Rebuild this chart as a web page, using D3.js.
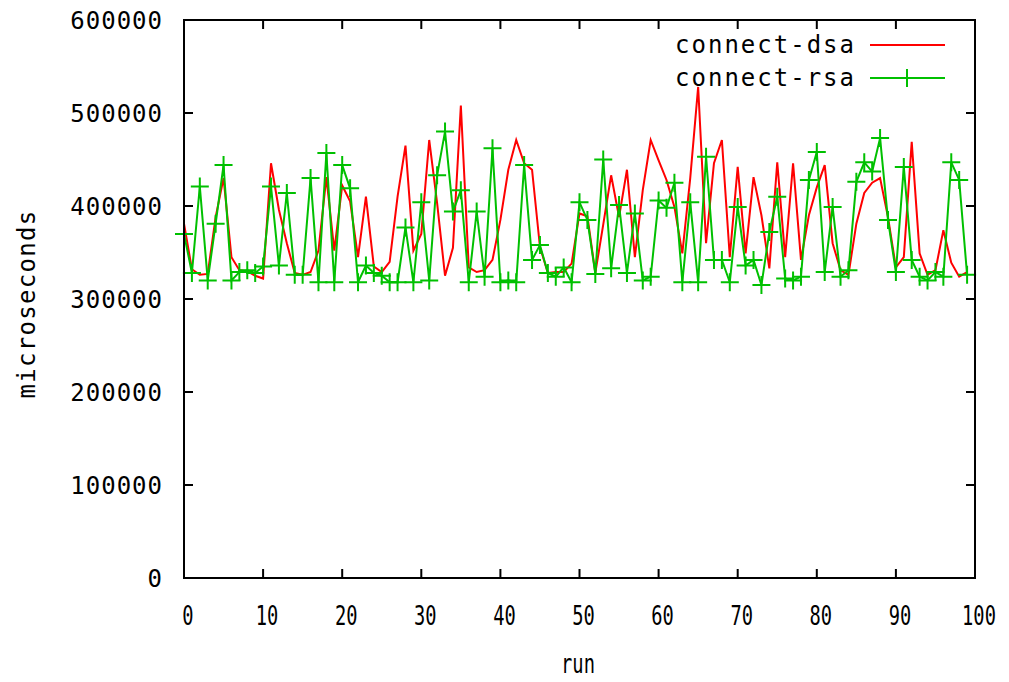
<!DOCTYPE html>
<html>
<head>
<meta charset="utf-8">
<script src="https://cdn.jsdelivr.net/npm/d3@7"></script>
<style>
  body { margin: 0; background: #fff; }
  text { font-family: "DejaVu Sans Mono", monospace; fill: #000; }
</style>
</head>
<body>
<svg id="chart"></svg>
<script>
// run numbers 0..99, values in microseconds
var dsa = [381000,332000,326000,327000,388000,430000,345000,331000,330000,325000,
           322000,446000,396000,360000,328000,326000,329000,352000,431000,352000,
           422000,405000,345000,410000,335000,329000,340000,410000,465000,352000,
           370000,471000,403000,325000,355000,508000,334000,329000,331000,342000,
           385000,439000,471000,446000,439000,356000,328000,329000,329000,338000,
           392000,389000,328000,380000,433000,388000,439000,345000,417000,471000,
           449000,428000,399000,349000,430000,528000,360000,446000,471000,345000,
           442000,349000,431000,390000,333000,447000,345000,446000,342000,390000,
           420000,444000,360000,331000,326000,381000,414000,425000,430000,388000,
           334000,345000,469000,349000,326000,331000,374000,339000,324000,329000];
var rsa = [370000,328000,421000,320000,381000,444000,320000,329000,331000,328000,
           335000,421000,336000,414000,326000,326000,430000,318000,457000,318000,
           444000,419000,318000,336000,328000,325000,318000,318000,377000,318000,
           404000,320000,433000,480000,394000,417000,318000,394000,324000,462000,
           318000,320000,318000,444000,342000,358000,328000,324000,334000,318000,
           404000,385000,327000,450000,333000,401000,328000,392000,320000,324000,
           406000,398000,425000,318000,404000,318000,453000,342000,342000,318000,
           399000,336000,342000,315000,372000,410000,322000,320000,324000,428000,
           458000,329000,399000,324000,331000,426000,447000,437000,473000,385000,
           329000,442000,342000,324000,320000,329000,324000,447000,428000,326000];
var seriesNames = ["connect-dsa", "connect-rsa"];
var xTicks = [0,10,20,30,40,50,60,70,80,90,100];
var yTicks = [0,100000,200000,300000,400000,500000,600000];

var W = 1009, H = 682;
var margin = {top: 20, right: 34, bottom: 104, left: 184};
var width = W - margin.left - margin.right,
    height = H - margin.top - margin.bottom;

var svg = d3.select("#chart").attr("width", W).attr("height", H);
var g = svg.append("g").attr("transform", "translate(" + margin.left + "," + margin.top + ")");

var x = d3.scaleLinear().domain([0, 100]).range([0, width]);
var y = d3.scaleLinear().domain([0, 600000]).range([height, 0]);

var red = "#ff0000", green = "#00c000";

// plot lines
var line = d3.line().x(function(d, i) { return x(i); }).y(function(d) { return y(d); });

g.append("path").datum(dsa)
  .attr("d", line).attr("fill", "none").attr("stroke", red).attr("stroke-width", 2);
g.append("path").datum(rsa)
  .attr("d", line).attr("fill", "none").attr("stroke", green).attr("stroke-width", 2);

function cross(sel, cx, cy) {
  sel.append("path")
    .attr("d", "M" + (cx - 9) + "," + cy + "H" + (cx + 9) + "M" + cx + "," + (cy - 9) + "V" + (cy + 9))
    .attr("stroke", green).attr("stroke-width", 2).attr("fill", "none");
}
var marks = g.append("g");
rsa.forEach(function(d, i) { cross(marks, x(i), y(d)); });

// frame with ticks on all sides (gnuplot mirror style)
g.append("rect").attr("width", width).attr("height", height)
  .attr("fill", "none").attr("stroke", "#000").attr("stroke-width", 2);

var tl = 9;
g.append("g").selectAll("path").data(xTicks).enter().append("path")
  .attr("d", function(d) { return "M" + x(d) + "," + height + "v" + (-tl) + "M" + x(d) + ",0v" + tl; })
  .attr("stroke", "#000").attr("stroke-width", 2);
g.append("g").selectAll("path").data(yTicks).enter().append("path")
  .attr("d", function(d) { return "M0," + y(d) + "h" + tl + "M" + width + "," + y(d) + "h" + (-tl); })
  .attr("stroke", "#000").attr("stroke-width", 2);

// tick labels
g.append("g").selectAll("text").data(yTicks).enter().append("text")
  .attr("x", -21).attr("y", function(d) { return y(d) + 9; })
  .attr("text-anchor", "end").style("font-size", "24px").style("letter-spacing", "1px")
  .text(function(d) { return d; });

g.append("g").selectAll("text").data(xTicks).enter().append("text")
  .attr("transform", function(d) { return "translate(" + (x(d) + 4) + "," + (height + 47) + ") scale(0.78,1.12)"; })
  .attr("text-anchor", "middle").style("font-size", "24px")
  .text(function(d) { return d; });

// axis titles
svg.append("text")
  .attr("transform", "translate(35,304) rotate(-90)")
  .attr("text-anchor", "middle").style("font-size", "24px").style("letter-spacing", "1.3px")
  .text("microseconds");
svg.append("text")
  .attr("transform", "translate(578,673) scale(0.78,1.12)")
  .attr("text-anchor", "middle").style("font-size", "24px")
  .text("run");

// legend
var legend = g.append("g");
[0, 1].forEach(function(k) {
  var ly = 25 + k * 33;
  legend.append("text").attr("x", 672).attr("y", ly + 8)
    .attr("text-anchor", "end").style("font-size", "24px").style("letter-spacing", "2px")
    .text(seriesNames[k]);
  legend.append("path").attr("d", "M686," + ly + "H761")
    .attr("stroke", k ? green : red).attr("stroke-width", 2);
  if (k) cross(legend, 723, ly);
});
</script>
</body>
</html>
